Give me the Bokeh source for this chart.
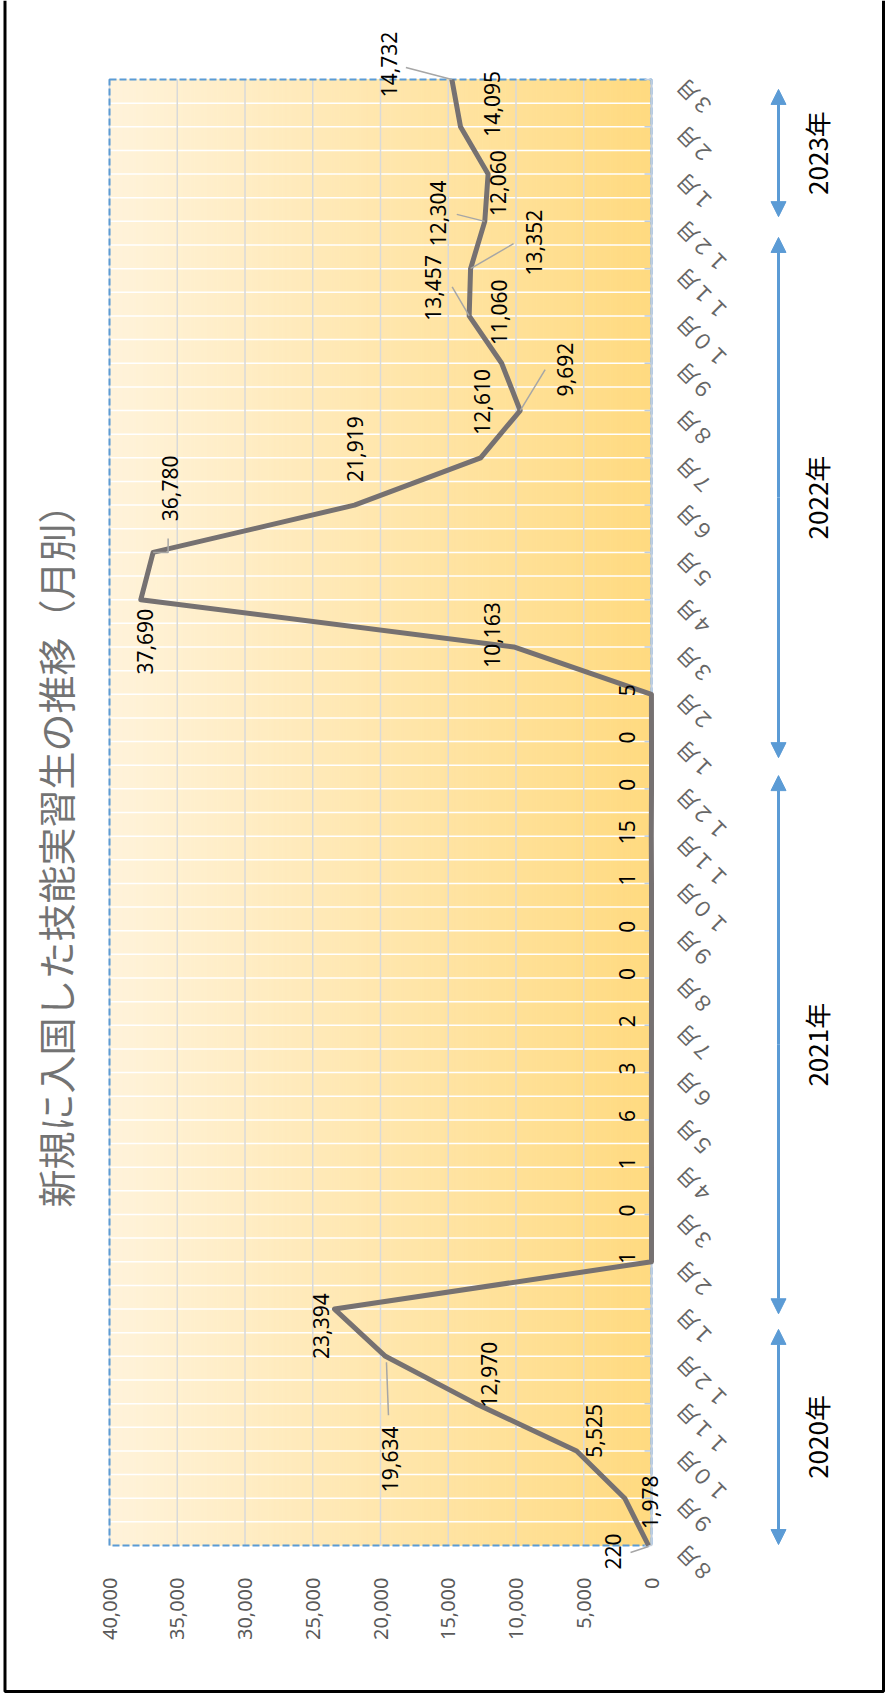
import numpy as np
from bokeh.plotting import figure
from bokeh.models import (Range1d, ColumnDataSource, LabelSet, Label, Arrow, NormalHead)
from bokeh.core.properties import value
from bokeh.embed import file_html
from bokeh.resources import INLINE

# ---------------- data ----------------
month_labels = ["８月", "９月", "１０月", "１１月", "１２月",
                "１月", "２月", "３月", "４月", "５月", "６月", "７月", "８月", "９月", "１０月", "１１月", "１２月",
                "１月", "２月", "３月", "４月", "５月", "６月", "７月", "８月", "９月", "１０月", "１１月", "１２月",
                "１月", "２月", "３月"]
entrants = [220, 1978, 5525, 12970, 19634,
            23394, 1, 0, 1, 6, 3, 2, 0, 0, 1, 15, 0,
            0, 5, 10163, 37690, 36780, 21919, 12610, 9692, 11060, 13457, 13352, 12304,
            12060, 14095, 14732]
years = ["2020年", "2021年", "2022年", "2023年"]
value_ticks = [0, 5000, 10000, 15000, 20000, 25000, 30000, 35000, 40000]
value_tick_labels = ["0", "5,000", "10,000", "15,000", "20,000", "25,000", "30,000", "35,000", "40,000"]
title_text = "新規に入国した技能実習生の推移（月別）"

# ---------------- layout / style ----------------
W, H = 886, 1693
FL, FR, FT, FB = 109, 651, 79, 1545       # plot-area box in screen px
XMAX = 40000
N = len(entrants) - 1
XS = XMAX / (FR - FL)      # data units per screen px (x, reversed)
YS = N / (FB - FT)         # data units per screen px (y)


def sx2x(sx):
    return XMAX - (sx - FL) * XS


def sy2y(sy):
    return N - (sy - FT) * YS


# label offsets in screen px (right, down) relative to each point
label_off = [(-36, 6), (25, 4), (17, -20), (13, -29), (5, 103),
             (-14, 17)] + [(-24, -4)] * 13 + [
             (-22, -12), (4, 42), (17, -64), (1, -56), (1, -56), (45, -41),
             (-3, -51), (-36, -28), (63, -26), (-47, -8), (10, 9), (31, -23), (-63, -15)]
# leader lines: index -> polyline offsets (px right, px down)
leaders = {0: [(0, 1), (-18, 7)], 4: [(1, 6), (3, 59)], 21: [(0, 0), (15, 0), (15, -14)],
           24: [(0, 0), (25, -41)], 26: [(0, 0), (-17, -29)], 27: [(0, 0), (43, -25)],
           28: [(0, 0), (-28, -7)], 31: [(0, 0), (-46, -12)]}
year_arrow_start = [0.02, 4.9, 16.66, 28.1]
year_arrow_end = [4.57, 16.28, 27.66, 30.79]

idx = list(range(len(entrants)))

p = figure(width=W, height=H,
           x_range=Range1d(sx2x(0), sx2x(W)), y_range=Range1d(sy2y(H), sy2y(0)),
           x_axis_location=None, y_axis_location=None, toolbar_location=None,
           output_backend="svg", min_border=0,
           background_fill_color="white", border_fill_color="white")
p.grid.visible = False
p.outline_line_color = None

# gradient background of the plot area
ns = 160
edges = np.linspace(XMAX, 0, ns + 1)
c0 = np.array([255, 243, 219])
c1 = np.array([255, 218, 128])
cols = []
for k in range(ns):
    t = (k + 0.5) / ns
    c = c0 + (c1 - c0) * t
    cols.append("#%02x%02x%02x" % tuple(int(round(v)) for v in c))
p.quad(left=edges[:-1], right=edges[1:], bottom=0, top=N, fill_color=cols,
       line_color=cols, line_width=1)

# grid lines
half = list(np.arange(0.5, N, 0.5))
p.segment(x0=[0] * len(half), x1=[XMAX] * len(half), y0=half, y1=half,
          line_color="white", line_width=1.5)
p.segment(x0=value_ticks, x1=value_ticks, y0=[0] * len(value_ticks), y1=[N] * len(value_ticks),
          line_color="#d9d9d9", line_width=1.5)

# plot-area border (dashed)
p.quad(left=[XMAX], right=[0], bottom=[0], top=[N], fill_color=None,
       line_color="#5b9bd5", line_width=2, line_dash="7 3")
# category axis line + inward ticks
p.segment(x0=[0], x1=[0], y0=[0], y1=[N], line_color="#bfcde0", line_width=2)
p.segment(x0=[0] * len(idx), x1=[7 * XS] * len(idx), y0=idx, y1=idx,
          line_color="#bfcde0", line_width=1.5)

src = ColumnDataSource(dict(v=entrants, i=idx,
                            t=[f"{v:,}" for v in entrants],
                            xo=[o[0] for o in label_off],
                            yo=[-o[1] for o in label_off],
                            m=month_labels,
                            zero=[0] * len(entrants)))

p.line(x="v", y="i", source=src, line_color="#767171", line_width=5, line_join="round")

# leader lines
for k, pts in leaders.items():
    v, i = entrants[k], idx[k]
    p.line(x=[v - a[0] * XS for a in pts], y=[i - a[1] * YS for a in pts],
           line_color="#a6a6a6", line_width=1.5)

p.add_layout(LabelSet(x="v", y="i", text="t", source=src, x_offset="xo", y_offset="yo",
                      angle=np.pi / 2, text_align="center", text_baseline="middle",
                      text_font=value("Noto Sans"), text_font_size="21px", text_color="#000000"))

# month labels (category axis)
p.add_layout(LabelSet(x="zero", y="i", text="m", source=src, x_offset=28, y_offset=-4,
                      angle=3 * np.pi / 4, text_align="right", text_baseline="middle",
                      text_font=value("Noto Sans CJK JP"), text_font_size="21px",
                      text_color="#666666"))

# value axis labels
vsrc = ColumnDataSource(dict(x=value_ticks, y=[0] * len(value_ticks), t=value_tick_labels))
p.add_layout(LabelSet(x="x", y="y", text="t", source=vsrc, y_offset=-32, angle=np.pi / 2,
                      text_align="right", text_baseline="middle",
                      text_font=value("Noto Sans"), text_font_size="20px", text_color="#595959"))

# year arrows and labels
ax_x = sx2x(778)
for yl, s, e in zip(years, year_arrow_start, year_arrow_end):
    for tip in (e, s):
        p.add_layout(Arrow(x_start=ax_x, y_start=(s + e) / 2, x_end=ax_x, y_end=tip,
                           line_color="#5b9bd5", line_width=3,
                           end=NormalHead(size=15, fill_color="#5b9bd5", line_color="#5b9bd5")))
    p.add_layout(Label(x=sx2x(816), y=(s + e) / 2, text=yl, angle=np.pi / 2,
                       text_align="center", text_baseline="middle",
                       text_font="Noto Sans CJK JP", text_font_size="26px", text_color="#000000"))

# title
p.add_layout(Label(x=sx2x(54), y=sy2y(846), text=title_text, angle=np.pi / 2,
                   text_align="center", text_baseline="middle",
                   text_font="Noto Sans CJK JP", text_font_size="38px", text_color="#737373"))

# outer border
p.line(x=[sx2x(4.5), sx2x(4.5), sx2x(883), sx2x(883)],
       y=[sy2y(0), sy2y(1691), sy2y(1691), sy2y(0)],
       line_color="#000000", line_width=3)

open("out.html", "w").write(file_html(p, INLINE))
